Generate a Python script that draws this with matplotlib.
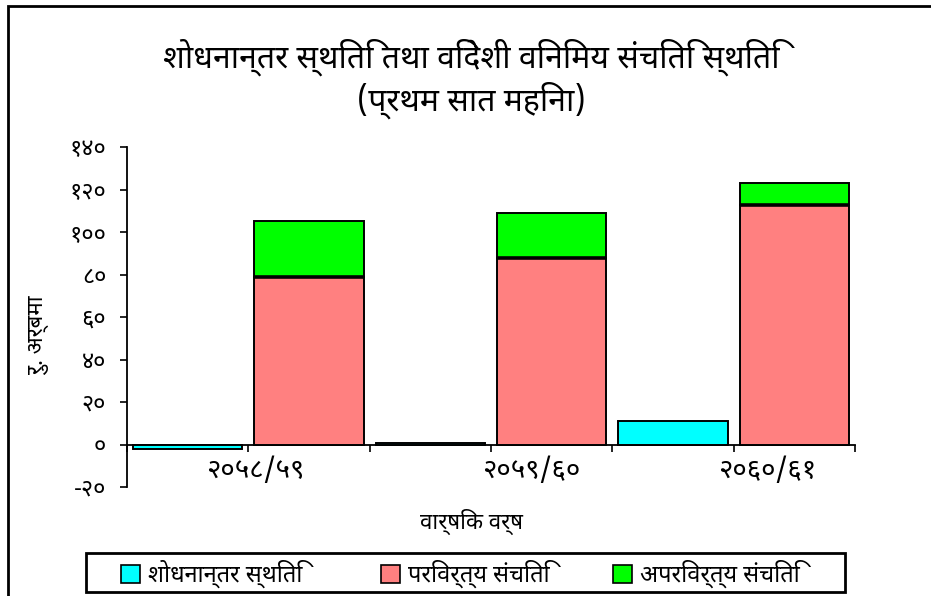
import matplotlib
matplotlib.use("Agg")
import matplotlib.pyplot as plt
from matplotlib import font_manager
from matplotlib.ft2font import FT2Font
from matplotlib.patches import Rectangle, Patch


def find_devanagari_fonts():
    names = []
    files = set(f.fname for f in font_manager.fontManager.ttflist)
    files |= set(font_manager.findSystemFonts())
    for fn in sorted(files):
        try:
            ft = FT2Font(fn)
            if ft.get_char_index(0x0915):
                names.append((ft.family_name, ft.style_name, fn))
        except Exception:
            pass
    return names


found = find_devanagari_fonts()
for _, _, fn in found:
    try:
        font_manager.fontManager.addfont(fn)
    except Exception:
        pass
preferred = ["Noto Sans Devanagari", "Lohit Devanagari", "Mukta", "FreeSans", "FreeSerif"]
fams = [n for n, _, _ in found]
DEVA = next((p for p in preferred if p in fams), fams[0] if fams else "DejaVu Sans")
bold_ok = any(n == DEVA and "Bold" in s for n, s, _ in found)
BW = "bold" if bold_ok else "normal"
plt.rcParams["font.family"] = [DEVA, "DejaVu Sans"]

# ---------------- data ----------------
years = ["२०५८/५९", "२०५९/६०", "२०६०/६१"]
series_names = ["शोधनान्तर स्थिति", "परिवर्त्य संचिति", "अपरिवर्त्य संचिति"]
bop = [-2.0, 0.6, 11.0]                 # शोधनान्तर स्थिति
convertible = [78.6, 88.0, 112.5]       # परिवर्त्य संचिति
inconvertible = [26.8, 21.0, 10.6]      # अपरिवर्त्य संचिति
yticks = [-20, 0, 20, 40, 60, 80, 100, 120, 140]
ytick_labels = ["-२०", "०", "२०", "४०", "६०", "८०", "१००", "१२०", "१४०"]
title_lines = ["शोधनान्तर स्थिति तथा विदेशी विनिमय संचिति स्थिति", "(प्रथम सात महिना)"]
ylabel = "रु. अर्बमा"
xlabel = "वार्षिक वर्ष"

colors = ["#00FFFF", "#FF8080", "#00FF00"]

W, H = 931, 596
fig = plt.figure(figsize=(W / 100, H / 100), dpi=100)
ax = fig.add_axes([127 / W, 1 - 487 / H, 728 / W, 340 / H])

bw = 0.9
g = range(len(years))
xc = [2 * i + 0.5 for i in g]
xs = [2 * i + 1.5 for i in g]
ax.bar(xc, bop, width=bw, color=colors[0], edgecolor="black", linewidth=1.4, zorder=3)
ax.bar(xs, convertible, width=bw, color=colors[1], edgecolor="black", linewidth=1.4, zorder=3)
ax.bar(xs, inconvertible, bottom=convertible, width=bw, color=colors[2],
       edgecolor="black", linewidth=1.4, zorder=3)
ax.hlines(convertible, [x - bw / 2 for x in xs], [x + bw / 2 for x in xs],
          color="black", linewidth=2.6, zorder=4)

ax.set_xlim(0, 6)
ax.set_ylim(-20, 140)
ax.spines["top"].set_visible(False)
ax.spines["right"].set_visible(False)
ax.spines["bottom"].set_position(("data", 0))
ax.spines["left"].set_linewidth(1.3)
ax.spines["bottom"].set_linewidth(1.3)
ax.set_yticks(yticks)
ax.set_yticklabels(ytick_labels, fontsize=17)
ax.set_xticks(range(0, 7))
ax.set_xticklabels([])
ax.tick_params(axis="y", direction="out", length=5, width=1.2, pad=10)
ax.tick_params(axis="x", direction="out", length=5, width=1.2)

label_x = [1.06, 3.33, 5.28]
for x, t in zip(label_x, years):
    ax.text(x, -12.7, t, ha="center", va="center", fontsize=20, fontweight=BW)

fig.text(472 / W, 1 - 522 / H, xlabel, ha="center", va="center", fontsize=16, fontweight=BW)
fig.text(40 / W, 1 - 336 / H, ylabel, ha="center", va="center", rotation=90, fontsize=16)
fig.text(471 / W, 1 - 57 / H, title_lines[0], ha="center", va="center", fontsize=23, fontweight=BW)
fig.text(471 / W, 1 - 100 / H, title_lines[1], ha="center", va="center", fontsize=23, fontweight=BW)

legend_x = [121, 381, 613]
for c, name, lx in zip(colors, series_names, legend_x):
    h = Patch(facecolor=c, edgecolor="black", linewidth=1.2)
    fig.legend([h], [name], loc="center left", bbox_to_anchor=(lx / W, 1 - 574 / H),
               frameon=False, fontsize=17, handlelength=0.8, handleheight=0.8,
               handletextpad=0.35, borderpad=0, borderaxespad=0)

fig.patches.append(Rectangle((86 / W, 1 - 592 / H), 759 / W, 39 / H, transform=fig.transFigure,
                             fill=False, edgecolor="black", linewidth=2))
fig.patches.append(Rectangle((8 / W, -0.1), 1.5, 1 - 6 / H + 0.1, transform=fig.transFigure,
                             fill=False, edgecolor="black", linewidth=2))

fig.savefig("out.png", dpi=100)
